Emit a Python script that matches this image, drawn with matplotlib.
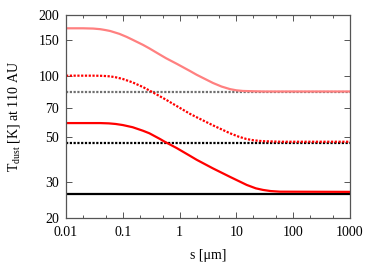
import matplotlib
matplotlib.use('Agg')
import matplotlib.pyplot as plt
from matplotlib.ticker import FixedLocator, NullFormatter, FixedFormatter

plt.rcParams['font.family'] = ['Liberation Serif', 'DejaVu Serif']
plt.rcParams['mathtext.fontset'] = 'custom'
plt.rcParams['mathtext.rm'] = 'Liberation Serif'

# dust temperature vs grain size
s_pink = [0.01, 0.02, 0.03, 0.04, 0.05, 0.06, 0.087, 0.117, 0.149, 0.227, 0.293, 0.452, 0.577,
          0.89, 1.52, 2.0, 3.87, 5.5, 7.7, 10, 13, 20, 30, 100, 1000]
T_pink = [172, 172, 171.5, 170.3, 168.5, 166.8, 161.5, 156, 151, 142.5, 137, 127.5, 122.5,
          115, 106, 101.5, 92.5, 88.8, 86.3, 85.1, 84.5, 84.2, 84, 84, 84]

s_rdot = [0.01, 0.03, 0.044, 0.06, 0.076, 0.1, 0.149, 0.227, 0.293, 0.452, 0.577, 0.89, 1.52,
          2.0, 3.87, 7.7, 11, 15, 20, 29, 60, 1000]
T_rdot = [100.5, 100.5, 100.3, 99.7, 98.6, 96.8, 93.1, 88.3, 85, 79.5, 76.5, 71.2, 65.2,
          62.7, 57.2, 52.3, 50.3, 49.0, 48.3, 47.8, 47.5, 47.5]

s_red = [0.01, 0.04, 0.057, 0.075, 0.1, 0.149, 0.227, 0.293, 0.452, 0.54, 0.89, 1.52, 2.0,
         3.87, 7.7, 15.2, 22, 29.4, 40, 58.6, 1000]
T_red = [58.7, 58.7, 58.5, 58.1, 57.4, 56.0, 53.8, 52.3, 49.0, 47.6, 44.2, 40.5, 38.7,
         35.1, 31.9, 29.1, 28.0, 27.5, 27.15, 26.96, 26.9]

s_flat = [0.01, 1000]
T_black = [26.3, 26.3]
T_bdot = [47.0, 47.0]
T_gray = [83.3, 83.3]

xticks = [0.01, 0.1, 1, 10, 100, 1000]
xlabels = ['0.01', '0.1', '1', '10', '100', '1000']
yticks = [20, 30, 50, 70, 100, 150, 200]

fig = plt.figure(figsize=(3.74, 2.62), dpi=100)
ax = fig.add_axes([66/374, 44/262, 284/374, 203/262])

dots = (0, (1, 0.7))
ax.plot(s_flat, T_black, color='black', lw=1.6)
ax.plot(s_flat, T_bdot, color='black', lw=1.6, ls=dots)
ax.plot(s_flat, T_gray, color='#707070', lw=1.6, ls=dots)
ax.plot(s_red, T_red, color='#ff0000', lw=1.6)
ax.plot(s_rdot, T_rdot, color='#ff0000', lw=1.6, ls=dots)
ax.plot(s_pink, T_pink, color='#ff8080', lw=1.6)

ax.set_xscale('log')
ax.set_yscale('log')
ax.set_xlim(0.01, 1000)
ax.set_ylim(20, 200)

ax.xaxis.set_major_locator(FixedLocator(xticks))
ax.xaxis.set_major_formatter(FixedFormatter(xlabels))
minors = [m * 10.0**e for e in range(-2, 3) for m in (2, 5)]
ax.xaxis.set_minor_locator(FixedLocator(minors))
ax.xaxis.set_minor_formatter(NullFormatter())
ax.yaxis.set_major_locator(FixedLocator(yticks))
ax.yaxis.set_major_formatter(FixedFormatter([str(t) for t in yticks]))
ax.yaxis.set_minor_locator(FixedLocator([]))

for sp in ax.spines.values():
    sp.set_color('#555555')
    sp.set_linewidth(0.9)
ax.tick_params(which='both', direction='in', top=True, right=True, color='#555555',
               labelsize=10)
ax.tick_params(axis='x', pad=6)
ax.tick_params(axis='y', pad=5)
ax.tick_params(which='major', length=4, width=0.7)
ax.tick_params(which='minor', length=2, width=0.7)

ax.set_xlabel('s [μm]', fontsize=10, labelpad=7)
ax.set_ylabel(r'T$_{\rm dust}$ [K] at 110 AU', fontsize=10, labelpad=12)

fig.savefig('out.png', dpi=100)
